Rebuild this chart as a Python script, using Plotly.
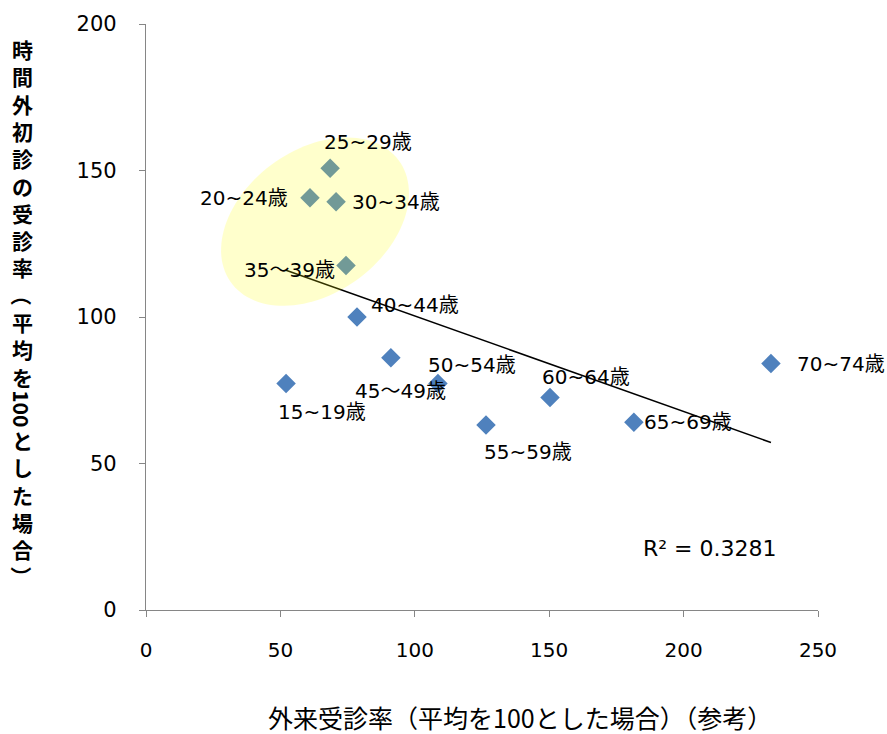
import numpy as np
import plotly.graph_objects as go

# ---- data ----
age_groups = ["15~19歳", "20~24歳", "25~29歳", "30~34歳", "35～39歳", "40~44歳",
              "45～49歳", "50~54歳", "55~59歳", "60~64歳", "65~69歳", "70~74歳"]
outpatient_rate = [52.1, 61.0, 68.5, 70.7, 74.4, 78.5, 91.1, 108.6, 126.5, 150.3, 181.5, 232.5]
afterhours_rate = [77.3, 140.7, 150.8, 139.3, 117.6, 100.0, 86.1, 77.3, 63.1, 72.5, 64.1, 84.1]
r2_text = "R² = 0.3281"
x_ticks = [0, 50, 100, 150, 200, 250]
y_ticks = [0, 50, 100, 150, 200]
x_title = "外来受診率（平均を100とした場合）（参考）"
# vertical y-axis title pieces: (text, stacked?)
y_title_parts = [
    ("時間外初診の受診率", True),
    ("（", False),
    ("平均を", True),
    ("100", False),
    ("とした場合", True),
    ("）", False),
]

# ---- label placement (pixel offsets, style) ----
label_style = [
    ("center", 36, -28), ("right", -20, 0), ("center", 38, 26), ("left", 14, 0),
    ("center", -56, -5), ("center", 58, 12), ("center", 10, -33), ("center", 34, 19),
    ("center", 42, -27), ("center", 36, 21), ("left", 8, 0), ("left", 24, 0),
]

W, H = 887, 734
ML, MR, MT, MB = 146, 69, 20, 124
PW, PH = W - ML - MR, H - MT - MB
XR, YR = [0, 250], [0, 200]


def px(xpix):
    return (xpix - ML) / PW


def py(ypix):
    return (MT + PH - ypix) / PH


fig = go.Figure()

# trendline (linear regression)
xs = np.array(outpatient_rate)
ys = np.array(afterhours_rate)
slope, intercept = np.polyfit(xs, ys, 1)
tx = np.array([xs.min(), xs.max()])
fig.add_trace(go.Scatter(x=tx, y=slope * tx + intercept, mode="lines",
                         line=dict(color="black", width=1.5), hoverinfo="skip",
                         showlegend=False))

fig.add_trace(go.Scatter(x=outpatient_rate, y=afterhours_rate, mode="markers",
                         marker=dict(symbol="diamond", size=15, color="#4F81BD",
                                     line=dict(width=0)),
                         showlegend=False))

LABEL_FONT = dict(family="DejaVu Sans, Noto Sans CJK JP", size=20, color="black")
for name, x, y, (anc, dx, dy) in zip(age_groups, outpatient_rate, afterhours_rate, label_style):
    fig.add_annotation(x=x, y=y, text=name, showarrow=False, xanchor=anc,
                       yanchor="middle", xshift=dx, yshift=dy, font=LABEL_FONT)

# highlight ellipse (pixel geometry converted to data units)
ppx = PW / (XR[1] - XR[0])
ppy = PH / (YR[1] - YR[0])
cx, cy = (315 - ML) / ppx, (MT + PH - 219) / ppy
a, b, th = 104, 72, np.radians(36.5)
t = np.linspace(0, 2 * np.pi, 120)
ex = cx + (a * np.cos(t) * np.cos(th) - b * np.sin(t) * np.sin(th)) / ppx
ey = cy + (a * np.cos(t) * np.sin(th) + b * np.sin(t) * np.cos(th)) / ppy
path = "M " + " L ".join(f"{u:.3f},{v:.3f}" for u, v in zip(ex, ey)) + " Z"
fig.add_shape(type="path", path=path, xref="x", yref="y", layer="above",
              fillcolor="rgba(255,255,0,0.2)", line=dict(width=0))

fig.add_annotation(x=px(710), y=py(548), xref="paper", yref="paper",
                   text=r2_text, showarrow=False, xanchor="center", yanchor="middle",
                   font=dict(family="DejaVu Sans", size=22, color="black"))

# x axis title
fig.add_annotation(x=px(520), y=py(718), xref="paper", yref="paper",
                   text=x_title, showarrow=False, xanchor="center", yanchor="middle",
                   font=dict(family="Noto Sans CJK JP", size=25, color="black"))

# y axis title, written vertically
YT_FONT = dict(family="Noto Sans CJK JP", size=21, color="black", weight="bold")
step = 27.5
ytx = px(22)
cursor = 45.0
for text, stacked in y_title_parts:
    if stacked:
        n = len(text)
        center = cursor + step * (n - 1) / 2
        fig.add_annotation(x=ytx, y=py(center), xref="paper", yref="paper",
                           text="<br>".join(list(text)), showarrow=False,
                           xanchor="center", yanchor="middle", font=YT_FONT)
        cursor += step * n
    else:
        span = step if len(text) == 1 else 36.0
        center = cursor + (span - step) / 2
        fig.add_annotation(x=ytx, y=py(center), xref="paper", yref="paper", text=text,
                           textangle=90, showarrow=False, xanchor="center",
                           yanchor="middle", font=YT_FONT, borderpad=0)
        cursor += span

AX = dict(showgrid=False, zeroline=False, showline=True, linecolor="#868686", linewidth=1.2,
          ticks="outside", ticklen=6, tickcolor="#868686", tickwidth=1.2)
fig.update_xaxes(range=XR, tickvals=x_ticks, ticklabelstandoff=16,
                 tickfont=dict(family="DejaVu Sans", size=20, color="black"), **AX)
fig.update_yaxes(range=YR, tickvals=y_ticks, ticklabelstandoff=18,
                 tickfont=dict(family="DejaVu Sans", size=21, color="black"), **AX)

fig.update_layout(width=W, height=H, margin=dict(l=ML, r=MR, t=MT, b=MB),
                  plot_bgcolor="white", paper_bgcolor="white", showlegend=False)

fig.write_html("out.html", config={"displayModeBar": False},
               post_script="document.body.style.margin='0px';document.body.style.overflow='hidden';")
